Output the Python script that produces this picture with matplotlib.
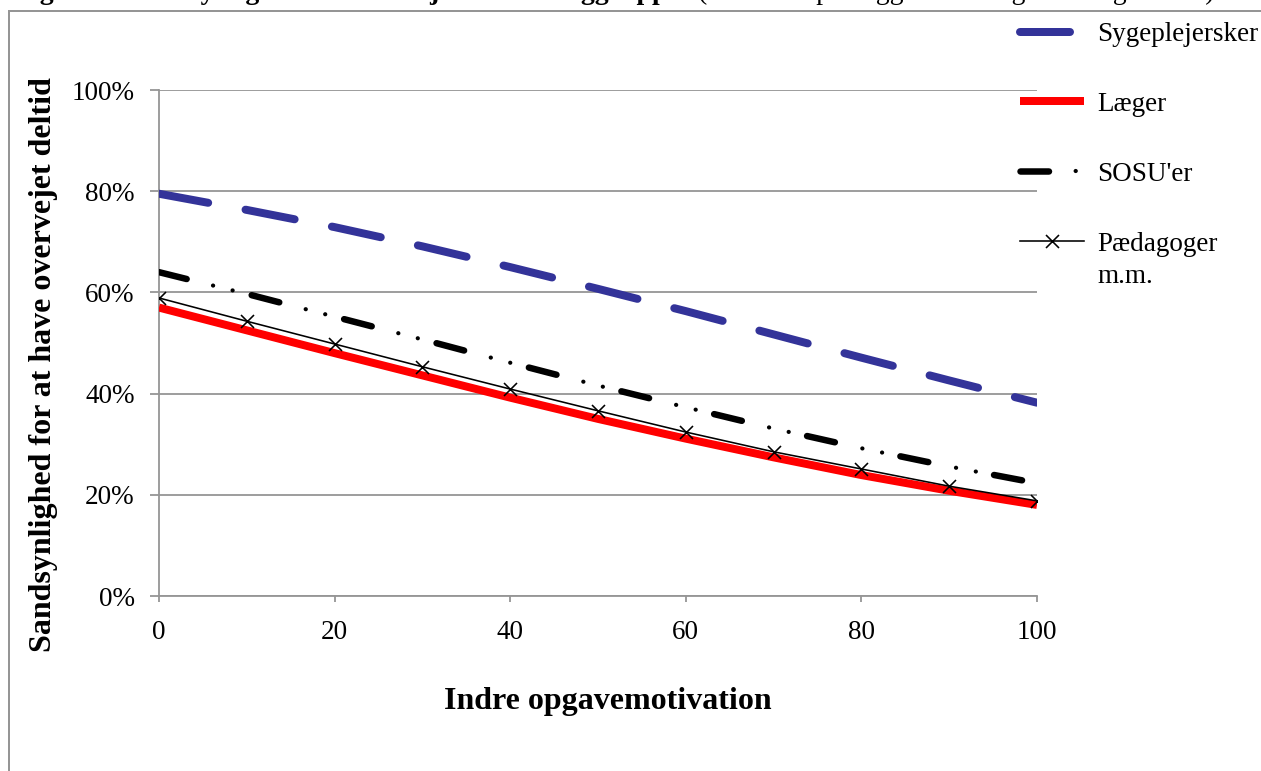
import numpy as np
import matplotlib
matplotlib.use('Agg')
import matplotlib.pyplot as plt
from matplotlib.lines import Line2D
from matplotlib.legend_handler import HandlerTuple

plt.rcParams['font.family'] = ['Liberation Serif', 'DejaVu Serif']
plt.rcParams['lines.scale_dashes'] = False

# Predicted probability of having considered part-time, by intrinsic motivation
motivation = [0, 10, 20, 30, 40, 50, 60, 70, 80, 90, 100]
sygeplejersker = [0.795, 0.763, 0.729, 0.691, 0.650, 0.607, 0.563, 0.517, 0.471, 0.426, 0.382]
laeger = [0.570, 0.525, 0.480, 0.436, 0.392, 0.350, 0.311, 0.274, 0.239, 0.208, 0.180]
sosu = [0.640, 0.597, 0.552, 0.507, 0.461, 0.416, 0.373, 0.331, 0.292, 0.256, 0.223]
paedagoger = [0.589, 0.543, 0.498, 0.453, 0.409, 0.366, 0.324, 0.285, 0.251, 0.217, 0.188]

series_names = ['Sygeplejersker', 'Læger', "SOSU'er", 'Pædagoger']
yticks = [0, 0.2, 0.4, 0.6, 0.8, 1.0]
xticks = [0, 20, 40, 60, 80, 100]

grey = '#959595'
px = 0.72  # points per pixel at dpi 100

fig = plt.figure(figsize=(12.61, 7.71), dpi=100)
ax = fig.add_axes([159 / 1261, 1 - 596 / 771, (1037 - 159) / 1261, (596 - 90) / 771])

l_syg, = ax.plot(motivation, sygeplejersker, color='#333399', lw=8 * px,
                 dashes=(50 * px, 38 * px), dash_capstyle='round', zorder=3)
l_lae, = ax.plot(motivation, laeger, color='#ff0000', lw=8 * px,
                 solid_capstyle='butt', zorder=3)
# dash-dot-dot: thick dashes plus a thinner dotted line on the same path
l_sosu_dash, = ax.plot(motivation, sosu, color='black', lw=6.5 * px,
                       linestyle=(0, (28.5 * px, 67 * px)), dash_capstyle='round', zorder=3)
l_sosu_dot, = ax.plot(motivation, sosu, color='black', lw=4.2 * px,
                      linestyle=(40 * px, (0.1, 20 * px, 0.1 * px, 75.4 * px)),
                      dash_capstyle='round', zorder=3)
l_paed, = ax.plot(motivation, paedagoger, color='black', lw=1.6 * px,
                  marker='x', markersize=13 * px, markeredgewidth=1.6 * px, zorder=4)

ax.set_xlim(0, 100)
ax.set_ylim(0, 1)
ax.set_xticks(xticks)
ax.set_yticks(yticks)
ax.set_yticklabels([f'{int(round(v * 100))}%' for v in yticks])
ax.yaxis.grid(True, color=grey, lw=1.8 * px)
ax.set_axisbelow(True)
for side in ['top', 'right']:
    ax.spines[side].set_visible(False)
for side in ['left', 'bottom']:
    ax.spines[side].set_color(grey)
    ax.spines[side].set_linewidth(1.8 * px)
ax.tick_params(axis='y', direction='out', length=9 * px, width=1.8 * px,
               color=grey, labelsize=19.5, pad=11)
ax.tick_params(axis='x', direction='out', length=6 * px, width=1.8 * px,
               color=grey, labelsize=19.5, pad=13)

ax.set_xlabel('Indre opgavemotivation', fontsize=23, fontweight='bold', labelpad=30)
ax.xaxis.label.set_x(0.511)
ax.set_ylabel('Sandsynlighed for at have overvejet deltid', fontsize=23,
              fontweight='bold')
ax.yaxis.set_label_coords(-0.115, 0.4565)

fig.legend([l_syg, l_lae, (l_sosu_dash, l_sosu_dot), l_paed], series_names,
           handler_map={tuple: HandlerTuple(ndivide=1)},
           loc='upper left', bbox_to_anchor=(1020 / 1261, 1 - 22 / 771),
           frameon=False, fontsize=19.5, handlelength=2.35, handletextpad=0.5,
           labelspacing=1.66, numpoints=1, borderpad=0, borderaxespad=0)
fig.text(1097 / 1261, 1 - 276 / 771, 'm.m.', fontsize=19.5, ha='left', va='center')

# outer chart frame
fig.add_artist(Line2D([9 / 1261, 9 / 1261], [0, 1 - 11 / 771], color=grey, lw=2 * px))
fig.add_artist(Line2D([9 / 1261, 1], [1 - 11 / 771, 1 - 11 / 771], color=grey, lw=2 * px))

# caption sitting above the chart frame
fig.text(692 / 1261, 1 + 1 / 771,
         'Figur 5.3 Sandsynlighed for overvejet deltid i faggrupper',
         fontsize=20, fontweight='bold', va='baseline', ha='right')
fig.text(698 / 1261, 1 + 1 / 771, '(estimeret på baggrund af logistisk regression)',
         fontsize=20, va='baseline', ha='left')

fig.savefig('out.png', dpi=100)
